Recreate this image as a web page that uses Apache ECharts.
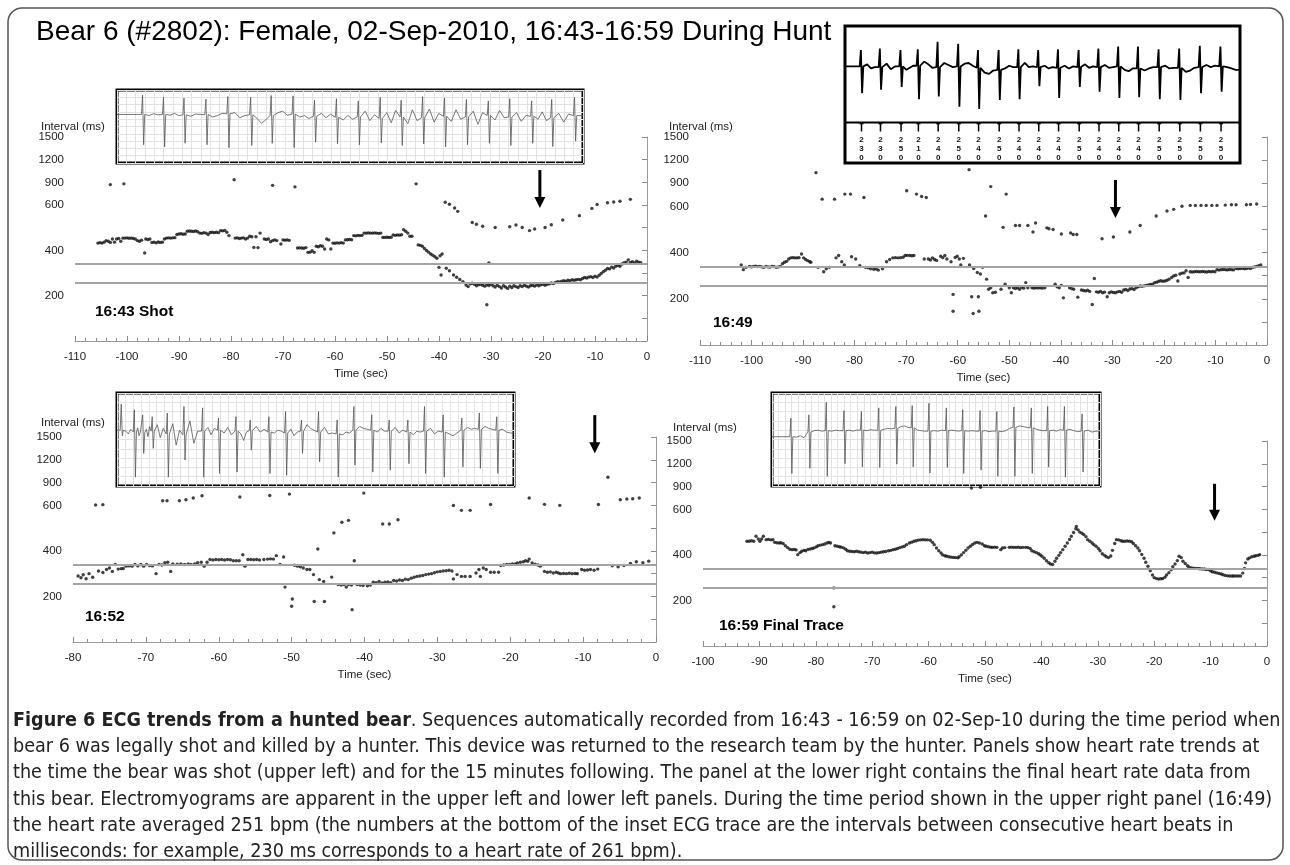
<!DOCTYPE html>
<html><head><meta charset="utf-8">
<script src="https://cdn.jsdelivr.net/npm/echarts/dist/echarts.min.js"></script>
<style>html,body{margin:0;padding:0;background:#fff}#c{width:1290px;height:865px}</style>
</head><body><div id="c"></div>
<script>
// ---------------- DATA ----------------
const titleText = 'Bear 6 (#2802): Female, 02-Sep-2010, 16:43-16:59 During Hunt';
const yTickValues = [0,100,200,300,400,500,600,900,1200,1500];
const yTickLabels = ['','','200','','400','','600','900','1200','1500'];
const refLinesMs = [340, 257];
const panelLabels = ['16:43 Shot','16:49','16:52','16:59 Final Trace'];
const xRanges = [[-110,0],[-110,0],[-80,0],[-100,0]];
// arrows: [time, top ms, tip ms]
const arrowData = [[-20.6,1062,587],[-29.4,942,550],[-8.4,1788,1287],[-9.3,936,550]];

const ulPoints = [
[-103.2,870],[-100.6,880],[-79.4,935],[-72,860],[-67.7,840],[-44.4,880],
[-105.6,432],[-105.2,434],[-104.8,432],[-104.4,436],[-104,443],[-103.6,440],[-103.2,435],[-102.8,450],[-102.4,436],[-102,450],[-101.6,452],[-101.2,440],[-100.8,454],[-100.4,454],[-100,455],[-99.6,453],[-99.2,454],[-98.8,452],[-98.4,450],[-98,443],[-97.6,440],[-97.2,445],[-96.6,388],[-96.4,450],[-96,448],[-95.6,450],[-95.2,435],[-94.8,436],[-94.4,433],[-94,437],[-93.6,435],[-93.2,436],[-92.8,450],[-92.4,454],[-92,455],[-91.6,454],[-91.2,455],[-90.8,456],[-90.4,470],[-90,472],[-89.6,473],[-89.2,471],[-88.8,472],[-88.4,484],[-88,485],[-87.6,484],[-87.2,483],[-86.8,485],[-86.4,482],[-86,476],[-85.6,475],[-85.2,478],[-84.8,476],[-84.4,470],[-84,479],[-83.6,480],[-83.2,478],[-82.8,480],[-82.4,478],[-82,487],[-81.6,486],[-81.2,488],[-80.8,480],[-80.4,465],[-79.2,454],[-78.8,455],[-78.4,452],[-78,454],[-77.6,455],[-77.2,450],[-76.8,454],[-76.4,462],[-76,460],[-75.6,413],[-75.2,460],[-74.8,412],[-74.4,476],[-73.6,450],[-73.2,448],[-72.8,450],[-72.4,438],[-72,443],[-71.6,446],[-71.2,443],[-70.4,428],[-70,446],[-69.6,445],[-69.2,446],[-68.8,444],[-67.2,410],[-66.8,411],[-66.4,410],[-66,409],[-65.6,412],[-65.2,391],[-64.8,392],[-64.4,398],[-64,391],[-63.6,418],[-63.2,416],[-62.8,420],[-62.4,418],[-62,406],[-61.6,450],[-61.2,446],[-60.8,406],[-60.4,432],[-60,431],[-59.6,433],[-59.2,432],[-58.8,434],[-58.4,432],[-58,446],[-57.6,447],[-57.2,448],[-56.8,447],[-56.4,465],[-56,464],[-55.6,466],[-55.2,465],[-54.8,466],[-54.4,476],[-54,476],[-53.6,477],[-53.2,476],[-52.8,476],[-52.4,477],[-52,476],[-51.6,475],[-51.2,476],[-50.8,457],[-50.4,457],[-50,458],[-49.6,457],[-49.2,458],[-48.8,468],[-48.4,466],[-48,468],[-47.6,467],[-47.2,469],[-46.8,491],[-46.4,484],[-46,476],[-45.6,462],[-45.2,462],
[-44,424],[-43.6,422],[-43.2,418],[-42.8,408],[-42.4,399],[-42,392],[-41.6,384],[-41.2,378],[-40.8,372],[-40.4,365],[-39.8,376],[-39.4,384],
[-40,325],[-39.6,291],[-38.6,321],[-38,310],[-37.2,291],[-36.6,281],[-36,271],[-35.4,262],[-34.8,247],[-34.4,240],
[-34,252],[-33.6,255],[-33.2,250],[-32.8,244],[-32.4,248],[-32,250],[-31.6,246],[-31.2,242],[-30.8,248],[-30.4,245],[-30,250],[-29.6,244],[-29.2,238],[-28.8,246],[-28.4,240],[-28,234],[-27.6,244],[-27.2,238],[-26.8,232],[-26.4,242],[-26,236],[-25.6,244],[-25.2,240],[-24.8,236],[-24.4,244],[-24,240],[-23.6,246],[-23.2,242],[-22.8,238],[-22.4,244],[-22,246],[-21.6,242],[-21.2,248],[-20.8,244],[-20.4,248],[-20,250],[-19.6,246],[-19.2,250],[-18.8,252],[-18.4,256],[-18,254],[-17.6,258],[-17.2,262],[-16.8,260],[-16.4,264],[-16,266],[-15.6,264],[-15.2,268],[-14.8,266],[-14.4,270],[-14,268],[-13.6,270],[-13.2,272],[-12.8,270],[-12.4,276],[-12,280],[-11.6,278],[-11.2,282],[-10.8,284],[-10.4,280],[-10,286],[-9.6,282],[-9.2,290],[-8.8,298],[-8.4,306],[-8,312],[-7.6,320],[-7.2,318],[-6.8,326],[-6.4,322],[-6,330],[-5.6,334],[-5.2,330],[-4.8,340],[-4.4,345],[-4,348],[-3.6,358],[-3.2,346],[-2.8,350],[-2.4,344],[-2,352],[-1.6,348],[-1.2,345],
[-30.8,160],[-30.4,344],
[-38.8,636],[-38,609],[-37,587],[-36.4,572],[-33.6,523],[-32.8,515],[-31.6,506],[-29.2,501],[-26.4,504],[-25.2,512],[-24,501],[-22.6,487],[-21.6,494],[-19.6,501],[-18.4,513],[-16.2,534],[-13,553],[-10.6,585],[-9.6,606],[-7.6,630],[-6.4,640],[-5.2,650],[-3.2,675]
];

const urPoints = [
[-87.5,1037],[-86.3,693],[-83.9,693],[-81.9,759],[-80.8,759],[-78.2,715],[-69.9,803],[-68,759],[-67,728],[-66.1,715],[-57.8,1076],[-53.6,856],[-54.6,558],[-51.2,509],[-50.6,759],[-48.8,517],[-48,517],[-46.4,517],[-45.4,489],[-44.9,528],[-42.7,507],[-42.3,503],[-41.5,500],[-39.9,480],[-38.1,485],[-37.6,478],[-36.9,478],[-32,460],[-29.8,467],[-26.6,489],[-24.6,517],[-21.5,558],[-19.4,580],[-18.1,587],[-16.5,601],[-14.9,612],[-13.9,612],[-12.8,612],[-11.8,612],[-10.7,612],[-9.7,612],[-8.1,616],[-6.9,620],[-6,620],[-4,620],[-3.2,625],[-2,630],
[-102,346],[-101.6,326],[-101.1,336],[-100.4,340],[-100,338],[-99.6,340],[-99.2,341],[-98.8,339],[-98.4,340],[-98,338],[-97.6,336],[-97.2,340],[-96.8,338],[-96.4,337],[-96,340],[-95.6,339],[-95.2,336],[-94.8,338],[-94.4,340],[-94,352],[-93.6,358],[-93.2,362],[-92.8,372],[-92.4,377],[-92,378],[-91.6,377],[-91.2,377],[-90.8,378],[-90.3,394],[-89.9,377],[-89.5,370],[-89.1,365],[-88.7,360],[-88.5,358],[-87.1,336],[-86,317],[-85.5,330],[-84.9,336],[-83.6,377],[-83.1,387],[-82.5,360],[-82,346],[-80.6,382],[-79.8,372],[-79,343],[-77.9,336],[-77.4,334],[-76.9,330],[-76.3,328],[-75.8,329],[-75.4,324],[-74.6,330],[-73.8,360],[-73.2,370],[-72.6,377],[-72.1,378],[-71.6,377],[-71.1,378],[-70.6,380],[-70.2,387],[-69.8,388],[-69.3,387],[-68.9,386],[-68.5,387],[-66.5,372],[-65.7,372],[-65.3,368],[-64.9,377],[-64.5,370],[-64.1,366],[-63.3,384],[-62.9,378],[-62.5,387],[-62.1,372],[-61.3,360],[-60.5,379],[-60.1,384],[-59.7,372],[-59.4,346],[-58.9,375],[-57.7,346],[-56.9,331],[-56.2,314],[-55.6,307],[-55.2,336],[-54.4,285],[-54,241],[-53.6,248],[-53.2,226],[-52.7,228],[-51.6,241],[-50.8,263],[-50,248],[-49.6,226],[-49.2,248],[-48.8,244],[-48.4,248],[-48,241],[-47.6,250],[-47.2,246],[-46.8,270],[-46.4,248],[-45.6,248],[-45.2,246],[-44.8,248],[-44.4,247],[-44,248],[-43.6,246],[-43.1,248],[-41.1,263],[-40.7,252],[-40.3,248],[-39.9,258],[-39.5,204],[-38.3,248],[-37.9,244],[-37.5,241],[-36.7,207],[-36,238],[-35.6,236],[-35.2,234],[-34.8,237],[-34.4,232],[-33.9,175],[-33.5,288],[-33.1,230],[-32.7,228],[-32.3,232],[-31.9,226],[-31.5,229],[-31,209],[-30.6,226],[-30.2,230],[-29.8,227],[-29.4,226],[-29,230],[-28.6,232],[-28.2,228],[-27.8,238],[-27.4,240],[-27,236],[-26.6,242],[-26.2,244],[-25.8,240],[-25.4,248],[-25,252],[-24.6,255],[-24.2,254],[-23.8,256],[-23.4,258],[-23,260],[-22.6,262],[-22.2,263],[-21.8,270],[-21.4,272],[-21,276],[-20.6,278],[-20.2,276],[-19.8,277],[-19.4,280],[-19,285],[-18.5,292],[-18.1,299],[-17.7,302],[-17.3,277],[-16.9,307],[-16.5,311],[-16.1,312],[-15.7,321],[-15.3,292],[-14.9,317],[-14.5,316],[-14.1,317],[-13.7,318],[-13.3,317],[-12.9,317],[-12.5,318],[-12.1,317],[-11.7,316],[-11.3,318],[-10.9,317],[-10.5,318],[-10.1,317],[-9.7,326],[-9.3,324],[-8.9,326],[-8.5,327],[-8.1,326],[-7.7,325],[-7.3,327],[-6.9,326],[-6.5,325],[-6,331],[-5.6,330],[-5.2,331],[-4.8,332],[-4.4,330],[-4,331],[-3.6,333],[-3.2,331],[-2.8,336],[-2.4,338],[-2,340],[-1.6,343],[-1.2,346],
[-60.9,219],[-60.9,146],[-57.3,209],[-57,136],[-56,209],[-55.9,146]
];

const llPoints = [
[-76.9,604],[-75.9,609],[-67.7,661],[-67.1,661],[-65.4,661],[-64.5,674],[-63.5,696],[-62.3,726],[-57.1,709],[-53,730],[-50.3,748],[-44.2,479],[-43.1,526],[-42.2,534],[-40.1,761],[-37.5,518],[-36.6,518],[-35.4,537],[-27.8,599],[-26.7,578],[-25.5,578],[-22.7,610],[-17.4,696],[-15.3,613],[-13.2,600],[-7.9,610],[-6.6,970],[-4.9,674],[-4,683],[-3.2,687],[-2.3,696],
[-79.3,290],[-78.9,282],[-78.6,295],[-78.2,278],[-77.8,300],[-77.3,284],[-76.5,312],[-75.9,305],[-75.4,318],[-75,325],[-74.6,310],[-74.2,340],[-73.8,320],[-73.4,322],[-73.1,323],[-72.7,333],[-72.3,334],[-71.9,333],[-71.5,340],[-71.1,334],[-70.7,340],[-70.3,333],[-69.9,340],[-69.5,336],[-69.1,334],[-68.6,300],[-68.2,340],[-67.8,338],[-67.4,348],[-67,350],[-66.6,310],[-66.3,343],[-65.7,342],[-65.2,343],[-64.7,340],[-64.2,343],[-63.8,341],[-63.3,343],[-62.9,348],[-62.4,350],[-62,333],[-61.6,350],[-61.2,362],[-60.8,360],[-60.4,362],[-60,361],[-59.6,362],[-59.2,360],[-58.8,362],[-58.4,361],[-58,357],[-57.6,357],[-57.2,357],[-56.7,383],[-56.4,333],[-56,362],[-55.6,362],[-55.2,361],[-54.8,362],[-54.4,360],[-53.8,362],[-53.3,364],[-52.9,365],[-52.5,364],[-52.1,379],[-51.6,340],[-51.1,373],[-50.9,241],[-50,157],[-49.9,189],[-49.6,337],[-49.2,333],[-48.8,330],[-48.4,325],[-47.9,318],[-47.5,318],[-47,296],[-46.9,178],[-46.4,408],[-46.2,274],[-45.6,266],[-45.5,178],[-44.5,285],[-43.6,252],[-43.2,250],[-42.8,252],[-42.5,241],[-42.2,252],[-41.8,250],[-41.7,142],[-41.4,357],[-41,252],[-40.6,250],[-40.2,248],[-39.6,247],[-39.2,250],[-38.8,262],[-38.4,260],[-38,266],[-37.6,259],[-37.2,262],[-36.8,264],[-36.4,260],[-36,270],[-35.6,268],[-35.2,272],[-34.8,270],[-34.4,276],[-34,274],[-33.6,280],[-33.2,284],[-32.8,288],[-32.4,290],[-32,292],[-31.6,296],[-31.2,298],[-30.8,300],[-30.4,304],[-30,308],[-29.6,310],[-29.2,312],[-28.8,313],[-28.4,315],[-28,312],[-27.8,277],[-27.3,296],[-26.7,288],[-26.2,288],[-25.5,288],[-24.7,303],[-24.3,318],[-24.1,288],[-23.7,325],[-23.3,318],[-22.7,306],[-22.2,306],[-21.6,306],[-21.3,336],[-20.9,338],[-20.5,341],[-20.1,340],[-19.7,343],[-19.3,343],[-19,347],[-18.6,350],[-18.2,352],[-17.9,357],[-17.6,354],[-17.4,364],[-17,347],[-16.6,342],[-16.2,338],[-15.9,333],[-15.3,310],[-14.9,306],[-14.5,308],[-14.1,303],[-13.7,306],[-13.4,303],[-13.1,300],[-12.7,301],[-12.3,300],[-11.9,302],[-11.5,300],[-11.1,301],[-10.8,300],[-10.2,318],[-9.8,315],[-9.4,316],[-9,318],[-8.5,315],[-8,320],[-6,335],[-5.2,330],[-4.4,336],[-3.5,345],[-2.7,352],[-1.8,348],[-1,355]
];

const lrPoints = [
[-52.4,880],[-50.8,890],[-76.8,255],[-76.8,172],
[-92.2,460],[-91.8,460],[-91.4,462],[-91,460],[-90.6,482],[-90.2,470],[-89.9,460],[-89.6,470],[-89.3,482],[-88.8,467],[-88.4,468],[-88,466],[-87.6,467],[-87.3,455],[-86.9,453],[-86.5,452],[-86.2,453],[-85.8,450],[-85.4,440],[-85,432],[-84.6,425],[-84.2,423],[-83.8,424],[-83.5,422],[-83.2,401],[-82.8,410],[-82.5,416],[-82.1,420],[-81.8,418],[-81.4,424],[-81,426],[-80.6,428],[-80.3,431],[-79.9,435],[-79.6,440],[-79.2,443],[-78.8,445],[-78.4,448],[-78,452],[-77.7,455],[-77.4,452],[-76.6,440],[-76.2,438],[-75.8,436],[-75.5,434],[-75.1,431],[-74.7,425],[-74.4,418],[-74,416],[-73.6,415],[-73.2,414],[-72.8,416],[-72.4,414],[-72,412],[-71.6,410],[-71.2,412],[-70.8,408],[-70.4,410],[-70,412],[-69.6,409],[-69.2,408],[-68.8,410],[-68.4,412],[-68,414],[-67.6,415],[-67.1,418],[-66.7,420],[-66.3,423],[-65.9,425],[-65.5,428],[-65.1,432],[-64.7,435],[-64.3,438],[-63.9,445],[-63.4,452],[-63,456],[-62.6,460],[-62.2,462],[-61.8,465],[-61.4,466],[-61,467],[-60.6,466],[-60.2,466],[-59.7,464],[-59.3,455],[-59,445],[-58.6,430],[-58.2,418],[-57.8,408],[-57.5,400],[-57.1,396],[-56.8,394],[-56.4,392],[-56,390],[-55.6,389],[-55.2,388],[-54.8,387],[-54.6,392],[-54.2,400],[-53.8,410],[-53.4,420],[-53,430],[-52.6,438],[-52.2,446],[-51.8,452],[-51.4,455],[-51,452],[-50.5,448],[-50.1,440],[-49.8,438],[-49.4,436],[-49,434],[-48.7,433],[-48.3,434],[-47.9,433],[-47.2,423],[-46.9,430],[-46.5,432],[-45.7,433],[-45.3,434],[-44.9,433],[-44.5,433],[-44.1,434],[-43.7,432],[-43.3,433],[-42.8,433],[-42.4,432],[-42,428],[-41.7,418],[-41.3,414],[-40.9,410],[-40.5,405],[-40.2,400],[-39.9,394],[-39.5,385],[-39.1,374],[-38.7,366],[-38.4,360],[-38,358],[-37.6,372],[-37.3,385],[-36.9,398],[-36.6,410],[-36.2,423],[-35.8,438],[-35.4,452],[-35,468],[-34.7,482],[-34.3,498],[-33.9,515],[-33.8,525],[-33.5,510],[-33.2,500],[-32.8,495],[-32.5,489],[-32.1,480],[-31.8,467],[-31.4,460],[-31,452],[-30.7,445],[-30.3,438],[-29.9,428],[-29.6,418],[-29.2,405],[-28.8,398],[-28.5,392],[-28.1,388],[-27.7,395],[-27.4,420],[-27,450],[-26.7,467],[-26.3,466],[-25.9,462],[-25.6,460],[-25.2,460],[-24.8,461],[-24.4,460],[-24,458],[-23.7,450],[-23.3,440],[-22.9,430],[-22.6,418],[-22.2,402],[-21.8,385],[-21.5,368],[-21.1,350],[-20.7,330],[-20.3,312],[-20,300],[-19.6,296],[-19.2,294],[-18.8,295],[-18.5,296],[-18.1,302],[-17.8,312],[-17.4,322],[-17,335],[-16.7,348],[-16.3,360],[-15.9,375],[-15.6,394],[-15.2,388],[-14.9,372],[-14.5,362],[-14.1,352],[-13.8,346],[-13.4,343],[-13,342],[-12.6,341],[-12.2,340],[-11.9,339],[-11.5,338],[-11.1,338],[-10.8,336],[-10.4,336],[-10,330],[-9.7,326],[-9.3,324],[-8.9,321],[-8.5,318],[-8.1,316],[-7.8,313],[-7.4,310],[-7,308],[-6.6,307],[-6.2,307],[-5.9,307],[-5.5,307],[-5.1,307],[-4.7,307],[-4.3,320],[-4,340],[-3.8,365],[-3.4,382],[-3.1,387],[-2.7,392],[-2.3,394],[-2,396],[-1.6,398],[-1.3,401]
];

// ECG inset beats: [x (% of strip), R peak, S trough, baseline, 3 inter-beat baseline readings]
const ulBeats = [
[5.6,8.6,-5.0,3.3,3.0,3.5,3.2],[10.1,8.0,-5.6,3.3,3.1,3.6,3.0],[14.5,7.8,-4.6,3.2,2.8,3.4,3.3],[19.2,7.5,-5.0,3.3,2.6,3.0,3.6],[23.9,8.2,-5.8,3.5,3.8,2.4,3.0],[28.8,8.0,-5.2,3.2,2.2,0.9,1.8],[33.2,8.5,-4.6,3.0,3.8,4.2,3.1],[37.9,8.4,-5.8,3.4,2.6,3.0,2.2],[42.5,7.2,-4.3,2.8,3.6,2.4,3.4],[47.2,7.6,-4.8,2.5,1.8,3.0,2.0],[51.9,7.0,-5.0,2.6,4.2,1.6,3.2],[56.6,8.0,-4.5,2.2,3.8,1.0,4.4],[61.1,7.2,-5.2,2.6,0.8,4.6,1.6],[65.7,8.2,-4.8,2.4,4.8,1.2,3.6],[70.4,7.8,-5.6,2.8,1.4,4.6,2.0],[75.1,7.4,-5.0,2.6,4.2,0.6,3.8],[79.8,7.0,-4.6,3.0,1.8,4.4,2.4],[84.4,7.6,-5.2,2.6,3.8,1.4,3.0],[89.1,7.0,-4.6,2.8,2.0,4.0,1.6],[93.4,7.4,-5.5,2.4,3.6,1.2,3.4],[98.3,8.0,-4.0,3.0,3.0,3.0,3.0]
];
const llBeats = [
[1.2,7.6,0.8,2.0,1.8,1.2,2.2],[4.5,6.4,-8.1,1.6,2.5,0.8,1.5],[6.6,5.3,-3.0,1.5,2.2,0.6,2.8],[9.0,4.9,-1.9,1.8,3.2,0.4,2.4],[12.8,5.7,-8.1,1.2,3.4,-1.2,2.0],[17.0,7.1,-4.4,1.0,4.0,-0.8,1.8],[21.7,6.8,-8.1,1.8,2.6,1.0,2.4],[25.7,4.6,-7.3,2.0,1.4,2.6,1.0],[30.1,4.9,-7.0,1.8,1.2,-0.2,1.6],[33.7,4.2,-2.3,1.9,2.8,1.6,2.2],[38.4,4.9,-7.3,1.6,1.4,2.0,1.8],[42.6,6.0,-7.7,1.4,2.2,0.8,1.6],[46.6,4.2,-3.0,1.8,3.2,2.4,2.0],[50.9,6.0,-4.8,1.6,2.6,1.2,1.4],[55.6,4.2,-8.1,1.2,1.0,1.6,1.4],[59.8,7.1,-5.5,2.0,2.8,2.4,2.2],[64.3,5.3,-7.0,2.0,1.6,2.4,1.8],[68.7,4.2,-6.6,1.8,2.6,1.4,2.0],[73.4,4.2,-5.2,1.6,1.0,1.8,1.6],[77.6,7.1,-7.3,1.8,2.4,1.2,1.8],[82.3,5.3,-8.1,1.6,1.2,0.8,1.4],[87.0,4.6,-5.9,2.0,2.6,2.2,2.4],[91.4,5.7,-6.2,2.2,2.8,2.4,2.2],[95.8,4.9,-7.3,2.0,2.2,1.6,1.4]
];
const lrBeats = [
[5.9,4.6,-7.3,0.6,0.5,0.8,0.4],[11.4,5.3,-6.2,1.6,1.9,2.0,1.8],[16.7,8.0,-7.9,1.9,1.8,2.0,1.9],[22.1,6.2,-5.2,1.9,2.0,1.8,2.0],[27.4,6.0,-5.9,2.0,1.9,2.1,2.0],[32.7,6.8,-6.0,2.0,2.2,2.4,2.3],[37.9,7.1,-5.3,2.4,2.8,2.9,2.6],[42.9,7.3,-5.9,2.5,2.0,1.9,1.8],[48.0,7.8,-7.2,1.8,1.9,1.8,2.0],[53.3,6.8,-6.0,1.9,2.0,1.9,1.8],[58.3,6.4,-7.3,1.9,1.8,1.9,1.8],[63.6,6.2,-6.6,1.8,1.9,1.7,1.8],[68.7,6.0,-7.9,1.8,1.7,1.9,2.4],[73.9,7.0,-7.9,2.6,2.9,2.8,2.6],[79.2,6.8,-7.3,2.5,2.2,2.0,1.9],[84.2,7.1,-5.9,1.9,2.0,1.8,2.1],[89.3,7.1,-8.1,2.0,2.2,1.9,1.7],[94.7,5.5,-7.0,1.8,2.0,1.6,1.8]
];
// upper-right inset: RR intervals (ms) printed under the trace, and beat shapes [R, S, baseline, 3 readings]
const urIntervals = [230,230,250,210,240,250,240,250,240,240,240,250,240,240,240,250,250,250,250];
const urFirstBeatMs = 200;
const urStripMs = 4790;
const urShapes = [
[6.5,0.2,4.1,4.4,3.8,4.0],[6.7,0.7,4.0,4.5,3.7,4.1],[6.5,1.1,4.1,3.6,3.9,4.2],[6.6,-0.7,4.2,4.8,4.4,3.9],[7.7,-0.3,4.0,4.6,4.3,4.0],[7.4,-1.8,4.1,4.5,4.6,4.2],[6.5,-2.1,3.9,3.2,3.0,3.5],[6.5,-0.8,3.6,3.8,4.2,4.0],[6.6,-0.7,4.0,4.6,4.0,4.1],[6.5,1.2,4.0,4.2,3.8,4.0],[6.6,-0.5,3.9,4.2,3.8,4.1],[6.5,1.1,4.0,4.4,3.9,4.1],[6.7,0.4,4.0,4.3,3.9,4.0],[7.0,-0.5,4.1,3.6,3.4,3.8],[7.0,-0.4,3.8,3.5,3.8,4.0],[6.6,-0.7,4.0,4.2,3.8,3.9],[6.7,-0.8,3.9,3.3,3.5,3.9],[7.1,0.2,4.0,4.3,4.0,4.2],[7.0,0.4,4.1,4.0,3.8,3.6]
];
const captionLines = [
 '{b|Figure 6 ECG trends from a hunted bear}. Sequences automatically recorded from 16:43 - 16:59 on 02-Sep-10 during the time period when',
 'bear 6 was legally shot and killed by a hunter. This device was returned to the research team by the hunter. Panels show heart rate trends at',
 'the time the bear was shot (upper left) and for the 15 minutes following. The panel at the lower right contains the final heart rate data from',
 'this bear. Electromyograms are apparent in the upper left and lower left panels. During the time period shown in the upper right panel (16:49)',
 'the heart rate averaged 251 bpm (the numbers at the bottom of the inset ECG trace are the intervals between consecutive heart beats in',
 'milliseconds: for example, 230 ms corresponds to a heart rate of 261 bpm).'
];

// ---------------- LAYOUT ----------------
const mainGrids = [
 {left:75, top:137, width:572, height:204},
 {left:700, top:137, width:567, height:208},
 {left:73, top:437, width:583, height:205},
 {left:703, top:441, width:564, height:205}
];
const insetGrids = [
 {left:117, top:90, width:466, height:73},
 {left:845, top:26, width:395, height:137},
 {left:117, top:393, width:397, height:93},
 {left:772, top:393, width:328, height:93}
];
const labelPos = [[95,312],[713,323],[85,617],[719,626]];
const intervalLabelPos = [[41,127],[669,127],[41,423],[673,428]];
const FONT = '"Liberation Sans", Arial, sans-serif';

// y transform: linear 0-600, then one tick step per 300 ms
const toU = v => v <= 600 ? v / 100 : 6 + (v - 600) / 300;
const allPoints = [ulPoints, urPoints, llPoints, lrPoints];

function buildTrace(beats, xEnd, w) {
  const pts = [[0, beats[0][3]]];
  beats.forEach((b, i) => {
    const [x, up, dn, base, n1, n2, n3] = b;
    const nx = i < beats.length - 1 ? beats[i + 1][0] : xEnd + w;
    pts.push([x - w, base], [x - w / 3, up], [x + w / 3, dn], [x + w, base]);
    const a = x + w, gap = (nx - w) - a;
    pts.push([a + gap * 0.25, n1], [a + gap * 0.5, n2], [a + gap * 0.75, n3]);
  });
  pts.push([xEnd, beats[beats.length - 1][6]]);
  return pts;
}
// UR beat times from RR intervals
const urBeatTimes = [];
urIntervals.forEach((iv, i) => {
  urBeatTimes.push(i === 0 ? urFirstBeatMs : urBeatTimes[i - 1] + iv);
});
const urBeats = urShapes.map((s, i) => [urBeatTimes[i], ...s]);

const grids = [], xAxes = [], yAxes = [], series = [];
mainGrids.forEach((g, i) => {
  grids.push(Object.assign({containLabel:false}, g));
  xAxes.push({
    gridIndex: i, type: 'value', min: xRanges[i][0], max: xRanges[i][1], interval: 10,
    axisLine: {lineStyle: {color: '#9a9a9a', width: 1}},
    axisTick: {inside: true, length: 5, lineStyle: {color: '#8a8a8a'}},
    minorTick: {show: true, splitNumber: 5, length: 3, lineStyle: {color: '#8a8a8a'}},
    axisLabel: {color: '#222', fontSize: 11.5, margin: 10, fontFamily: FONT},
    splitLine: {show: false},
    name: 'Time (sec)', nameLocation: 'middle', nameGap: 27,
    nameTextStyle: {color: '#222', fontSize: 11.5, fontFamily: FONT}
  });
  yAxes.push({
    gridIndex: i, type: 'value', min: 0, max: yTickValues.length - 1, interval: 1,
    axisLine: {show: true, lineStyle: {color: '#9a9a9a', width: 1}},
    axisTick: {show: true, inside: false, length: 5, lineStyle: {color: '#8a8a8a'}},
    axisLabel: {color: '#222', fontSize: 11.5, margin: 11, fontFamily: FONT,
      formatter: v => yTickLabels[Math.round(v)] || ''},
    splitLine: {show: false}
  });
  series.push({
    type: 'scatter', xAxisIndex: i, yAxisIndex: i,
    data: allPoints[i].map(p => [p[0], toU(p[1])]),
    symbol: 'circle', symbolSize: 3.4, itemStyle: {color: '#111'}, z: 4,
    markLine: {silent: true, symbol: 'none', label: {show: false},
      lineStyle: {color: '#a3a3a3', width: 2, type: 'solid'},
      data: refLinesMs.map(v => ({yAxis: toU(v)}))}
  });
});
// inset grids
insetGrids.forEach((g, k) => {
  const gi = 4 + k;
  grids.push(Object.assign({show: true, borderColor: '#000', borderWidth: 3, backgroundColor: '#fff'}, g));
  const isUR = k === 1;
  xAxes.push({gridIndex: gi, type: 'value', min: 0, max: isUR ? urStripMs : 100, interval: isUR ? 1000 : 2,
    axisLine: {show: false}, axisTick: {show: false}, axisLabel: {show: false},
    splitLine: {show: !isUR, lineStyle: {color: '#e2e2e2', width: 1}}});
  yAxes.push({gridIndex: gi, type: 'value', min: -10, max: 10, interval: 2,
    axisLine: {show: false}, axisTick: {show: false}, axisLabel: {show: false},
    splitLine: {show: !isUR, lineStyle: {color: '#e2e2e2', width: 1}}});
});
const traces = [buildTrace(ulBeats, 100, 0.35), buildTrace(urBeats, urStripMs, 22), buildTrace(llBeats, 100, 0.4), buildTrace(lrBeats, 100, 0.45)];
traces.forEach((t, k) => {
  series.push({type: 'line', xAxisIndex: 4 + k, yAxisIndex: 4 + k, data: t, showSymbol: false,
    lineStyle: {color: k === 1 ? '#000' : '#555', width: k === 1 ? 1.8 : 0.8}, z: 5, animation: false});
});
// UR divider + beat ticks + interval numbers
series.push({type: 'line', xAxisIndex: 5, yAxisIndex: 5, data: [[0, -4.1], [urStripMs, -4.1]], showSymbol: false,
  lineStyle: {color: '#000', width: 2}, z: 5});
series.push({type: 'custom', xAxisIndex: 5, yAxisIndex: 5, z: 6,
  data: urBeatTimes.map((t, i) => [t, urIntervals[i]]),
  renderItem: (params, api) => {
    const x = api.value(0), iv = api.value(1);
    const p1 = api.coord([x, -4.1]), p2 = api.coord([x, -5.4]);
    return {type: 'group', children: [
      {type: 'line', shape: {x1: p1[0], y1: p1[1], x2: p2[0], y2: p2[1]}, style: {stroke: '#000', lineWidth: 1.5}},
      {type: 'line', shape: {x1: p1[0] - 2, y1: p1[1] + 1, x2: p1[0] + 2, y2: p1[1] + 1}, style: {stroke: '#000', lineWidth: 1.5}},
      {type: 'text', x: p2[0], y: p2[1] + 4, style: {text: String(iv).split('').join('\n'), fontSize: 8, lineHeight: 9,
        fontWeight: 'bold', fontFamily: FONT, fill: '#111', align: 'center', verticalAlign: 'top'}}
    ]};
  }});

const chart = echarts.init(document.getElementById('c'), null, {renderer: 'canvas'});
chart.setOption({animation: false, backgroundColor: '#fff', grid: grids, xAxis: xAxes, yAxis: yAxes, series: series});

// ---------------- annotations ----------------
const graphics = [];
graphics.push({type: 'rect', shape: {x: 8, y: 8, width: 1275, height: 852, r: 14},
  style: {fill: 'none', stroke: '#555', lineWidth: 1.5}, z: 100});
graphics.push({type: 'text', x: 36, y: 32, style: {text: titleText, font: '28px ' + FONT, fill: '#000', verticalAlign: 'middle'}, z: 100});
panelLabels.forEach((t, i) => {
  graphics.push({type: 'text', x: labelPos[i][0], y: labelPos[i][1],
    style: {text: t, font: 'bold 15.5px ' + FONT, fill: '#000', verticalAlign: 'middle'}, z: 100});
  graphics.push({type: 'text', x: intervalLabelPos[i][0], y: intervalLabelPos[i][1],
    style: {text: 'Interval (ms)', font: '11.5px ' + FONT, fill: '#222', verticalAlign: 'middle'}, z: 100});
});
arrowData.forEach((a, i) => {
  const p1 = chart.convertToPixel({gridIndex: i}, [a[0], toU(a[1])]);
  const p2 = chart.convertToPixel({gridIndex: i}, [a[0], toU(a[2])]);
  graphics.push({type: 'line', shape: {x1: p1[0], y1: p1[1], x2: p2[0], y2: p2[1] - 9},
    style: {stroke: '#000', lineWidth: 3}, z: 100});
  graphics.push({type: 'polygon', shape: {points: [[p2[0] - 5.5, p2[1] - 11], [p2[0] + 5.5, p2[1] - 11], [p2[0], p2[1]]]},
    style: {fill: '#000'}, z: 100});
});
const capY = [721, 747, 773, 800, 826, 852];
const CAPFONT = '"DejaVu Sans Condensed", "Liberation Sans", sans-serif';
captionLines.forEach((t, i) => {
  graphics.push({type: 'text', x: 13, y: capY[i], style: {text: t, fontSize: 19.6, fontFamily: CAPFONT, fill: '#222',
    verticalAlign: 'middle', rich: {b: {fontSize: 19.6, fontFamily: CAPFONT, fontWeight: 'bold', fill: '#222'}}}, z: 100});
});
chart.setOption({graphic: graphics});
</script></body></html>
